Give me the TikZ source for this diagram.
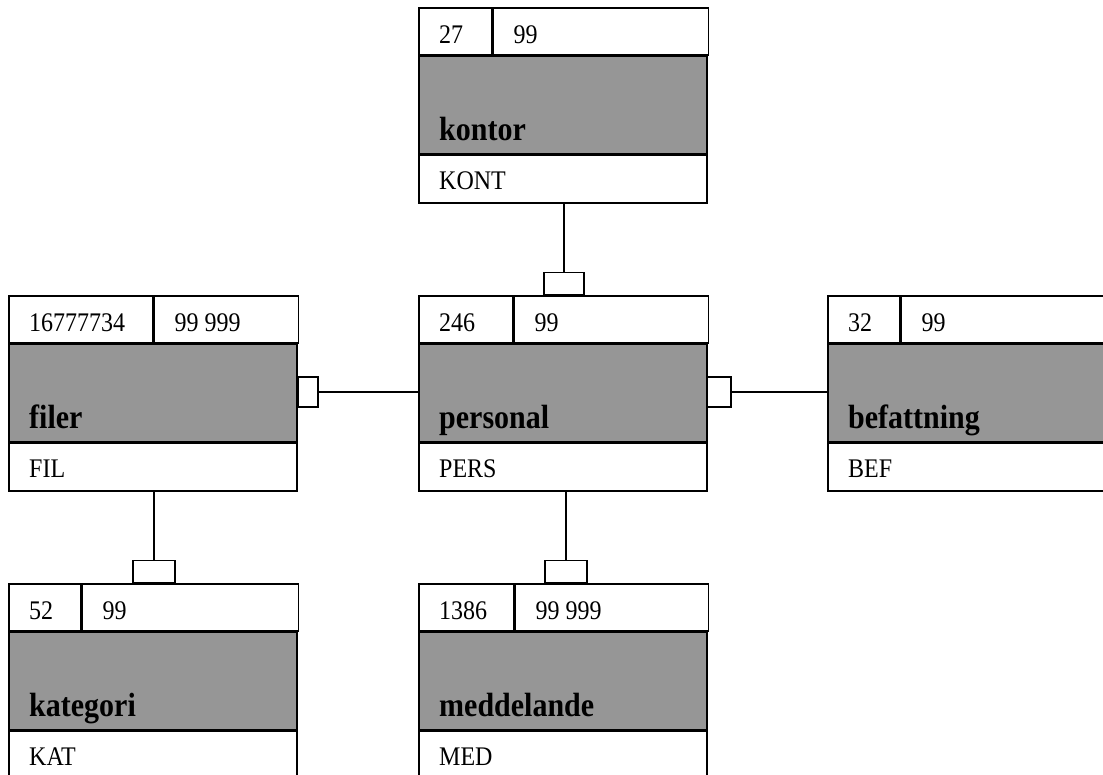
\documentclass[tikz,border=0pt]{standalone}
\usepackage{fontspec}
\setmainfont{Liberation Serif}
\usepackage{graphicx}
\usepackage{tikz}
\usetikzlibrary{positioning}
\definecolor{band}{RGB}{150,150,150}
\newcommand{\tall}[1]{\scalebox{1}[1.12]{#1}}

\begin{document}
\begin{tikzpicture}[x=1pt,y=-1pt,
  cell/.style={draw, line width=1.5pt, inner sep=0pt, anchor=north west},
  num/.style={font=\fontsize{24}{28}\selectfont, inner sep=0pt, anchor=base west},
  title/.style={font=\fontsize{30}{34}\selectfont\bfseries, inner sep=0pt, anchor=base west},
  foot/.style={draw, fill=white, line width=1.5pt, inner sep=0pt},
  link/.style={line width=1.3pt}]
\useasboundingbox (0,0) rectangle (1103,774);
% entities: name/short/x/y/divider/count/size
\foreach \nm/\ab/\x/\y/\d/\p/\q in {kontor/KONT/418/7/73/27/99,
  filer/FIL/8/295/144/16777734/99 999, personal/PERS/418/295/94/246/99,
  befattning/BEF/827/295/72/32/99, kategori/KAT/8/583/72/52/99,
  meddelande/MED/418/583/95/1386/99 999}
{
  \node [cell, minimum width=\d, minimum height=47] (\nm-a) at (\x,\y) {};
  \node [cell, minimum width=288-\d, minimum height=47] (\nm-b) at (\nm-a.north east) {};
  \node [cell, fill=band, minimum width=288, minimum height=97] (\nm-g) at (\nm-a.south west) {};
  \node [cell, minimum width=288, minimum height=48] (\nm-c) at (\nm-g.south west) {};
  \node [num] (\nm-p) at ([shift={(21pt,12pt)}]\nm-a.south west) {\tall{\p}};
  \node [num] (\nm-q) at ([shift={(21pt,12pt)}]\nm-b.south west) {\tall{\q}};
  \node [title] (\nm-t) at ([shift={(21pt,14pt)}]\nm-g.south west) {\tall{\nm}};
  \node [num] (\nm-r) at ([shift={(21pt,14pt)}]\nm-c.south west) {\tall{\ab}};
}
% crow feet
\node [foot, minimum width=40, minimum height=22, anchor=south] (kontorfoot) at (564,295) {};
\node [foot, minimum width=20, minimum height=30, anchor=west] (filerfoot) at (297,392) {};
\node [foot, minimum width=24, minimum height=30, anchor=west] (personalfoot) at (706,392) {};
\node [foot, minimum width=42, minimum height=22, anchor=south] (kategorifoot) at (154,583) {};
\node [foot, minimum width=42, minimum height=22, anchor=south] (meddelandefoot) at (566,583) {};
\draw [link] (kontorfoot.north) -- (kontorfoot.north |- kontor-c.south);
\draw [link] (filerfoot.east) -- (filerfoot.east -| personal-g.west);
\draw [link] (personalfoot.east) -- (personalfoot.east -| befattning-g.west);
\draw [link] (kategorifoot.north) -- (kategorifoot.north |- filer-c.south);
\draw [link] (meddelandefoot.north) -- (meddelandefoot.north |- personal-c.south);
\end{tikzpicture}
\end{document}
